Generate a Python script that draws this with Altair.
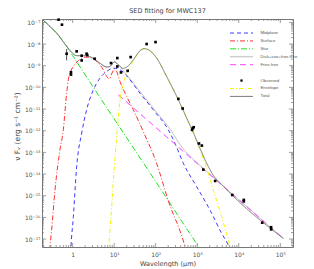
import altair as alt
import pandas as pd

# ---------------- data ----------------
star_lam = [0.197, 0.284, 0.412, 0.717, 1.0, 3.45, 10, 100, 890, 1260]
star_f = [1.24e-7, 6.5e-8, 3.2e-8, 7.8e-9, 2.95e-9, 7.7e-11, 3.5e-12, 4.5e-15, 7.8e-18, 2.9e-18]

surf_lam = [0.264, 0.284, 0.312, 0.376, 0.495, 0.596, 0.717, 0.787, 0.895, 1.04, 1.37, 1.98, 2.61,
            3.78, 5.47, 6.59, 7.64, 8.85, 10.1, 11.5, 13.8, 20.0, 28.9, 50.3, 105, 201, 507, 610]
surf_f = [1.07e-18, 4.4e-18, 2.6e-17, 1.84e-15, 1.3e-13, 1.09e-12, 5.4e-11, 2.24e-10, 5.4e-10, 9.2e-10,
          1.69e-9, 2.5e-9, 2.41e-9, 1.57e-9, 6.5e-10, 3.2e-10, 2.49e-10, 4.5e-10, 7.2e-10, 5.4e-10,
          1.87e-10, 3.8e-11, 9.2e-12, 9.1e-13, 3.15e-14, 5.9e-16, 4.4e-18, 1.07e-18]

mid_lam = [0.879, 0.912, 1.04, 1.25, 1.65, 2.17, 3.15, 4.55, 6.59, 9.53, 13.8, 20.0, 41.8, 87.5,
           201, 291, 462, 968, 2026, 3867, 5595, 6731]
mid_f = [1.07e-18, 4.4e-18, 1.08e-16, 2.21e-14, 7.7e-13, 9.2e-12, 7.7e-11, 2.67e-10, 5.4e-10, 7.7e-10,
         6.5e-10, 3.4e-10, 5.4e-11, 9.2e-12, 1.09e-12, 2.64e-13, 3.15e-14, 2.62e-15, 2.19e-16,
         1.83e-17, 5.3e-18, 2.2e-18]

env_lam = [7.1, 7.5, 8.69, 10.1, 11.9, 13.8, 16.6, 21.1, 28.9, 41.8, 52.2, 66.3, 105, 183, 350,
           556, 804, 1164, 1684, 2437, 3867, 6137, 6860]
env_f = [1.07e-18, 6.3e-18, 3.1e-16, 2.21e-14, 1.09e-12, 2.66e-11, 1.57e-10, 5.4e-10, 1.69e-9, 4.9e-9,
         6.1e-9, 5.5e-9, 2.25e-9, 3.2e-10, 2.66e-11, 3.8e-12, 7.7e-13, 1.3e-13, 1.85e-14, 1.84e-15,
         1.08e-16, 4.4e-18, 1.8e-18]

ff_lam = [12.6, 1164, 118000]
ff_f = [4.5e-11, 2.37e-14, 1.07e-17]

disk_lam = [0.197, 0.284, 0.412, 0.717, 0.912, 1.25, 1.98, 3.15, 4.55, 6.59, 7.92, 10.1, 12.6, 16.6,
            28.9, 87.5, 201, 462, 1164, 2932, 118000]
disk_f = [1.24e-7, 6.5e-8, 3.2e-8, 7.85e-9, 4.5e-9, 2.9e-9, 2.9e-9, 2.18e-9, 1.3e-9, 8.75e-10, 9.2e-10,
          1.5e-9, 1.1e-9, 5.9e-10, 1.57e-10, 1.1e-11, 1.54e-12, 1.44e-13, 2.5e-14, 5.2e-15, 1.07e-17]

tot_lam = [0.197, 0.284, 0.412, 0.717, 0.912, 1.25, 1.98, 3.15, 4.55, 6.59, 7.92, 10.1, 12.6, 16.6,
           21.1, 28.9, 41.8, 52.2, 66.3, 105, 183, 350, 556, 804, 1164, 1684, 2437, 3867, 118000]
tot_f = [1.24e-7, 6.5e-8, 3.2e-8, 7.85e-9, 4.5e-9, 2.9e-9, 2.9e-9, 2.18e-9, 1.3e-9, 8.75e-10, 9.2e-10,
         1.5e-9, 1.1e-9, 7.5e-10, 9.3e-10, 1.85e-9, 4.9e-9, 6.1e-9, 5.5e-9, 2.25e-9, 3.2e-10, 2.7e-11,
         3.9e-12, 8.2e-13, 1.55e-13, 3.2e-14, 8.7e-15, 3.3e-15, 1.07e-17]

obs_lam = [0.46, 0.553, 0.717, 0.912, 0.912, 1.25, 1.65, 1.65, 2.17, 2.25, 3.38, 8.4, 11.9, 11.9, 14.6,
           21.1, 24.9, 60.5, 99, 350, 445, 750, 780, 820, 1100, 1290, 1400, 2700, 6960, 13200, 13200,
           36600, 60000, 60000]
obs_f = [1.33e-7, 7.8e-8, 3.56e-9, 5.0e-10, 3.9e-10, 4.6e-9, 2.9e-9, 1.75e-9, 3.56e-9, 3.1e-9, 2.1e-9,
         1.32e-9, 2.25e-9, 9.2e-10, 4.9e-10, 5.8e-10, 2.5e-9, 1.0e-8, 1.23e-8, 2.95e-11, 1.06e-11,
         1.1e-12, 1.3e-12, 1.45e-12, 2.57e-13, 2.06e-13, 1.6e-14, 4.8e-15, 1.08e-15, 6.4e-16, 5.5e-16,
         5.7e-17, 3.5e-17, 2.8e-17]
err_lam = [0.717]
err_lo = [1.75e-9]
err_hi = [5.9e-9]

legend_labels = ["Midplane", "Surface", "Star", "Disk+star+free-free", "Free-free",
                 "Observed", "Envelope", "Total"]
legend_rows = [0, 1, 2, 3, 4, 6, 7, 8]

line_series = ["Midplane", "Surface", "Star", "Disk+star+free-free", "Free-free", "Envelope", "Total"]
line_colors = ["#3c3cff", "#ff3030", "#20e020", "#bdbdbd", "#ff40ff", "#f4f400", "#7a7a7a"]
line_dashes = [[4, 3], [5, 2, 1, 2], [6, 2, 1, 2], [1, 0], [6, 4], [4, 2, 1, 2], [1, 0]]
line_widths = [1, 1, 1, 2.2, 1, 1, 1]

x_major = [1, 10, 100, 1000, 10000, 100000]
x_major_labels = ["1", "10¹", "10²", "10³", "10⁴", "10⁵"]
y_major = [1e-7, 1e-8, 1e-9, 1e-10, 1e-11, 1e-12, 1e-13, 1e-14, 1e-15, 1e-16, 1e-17]
y_major_labels = ["10⁻⁷", "10⁻⁸", "10⁻⁹", "10⁻¹⁰", "10⁻¹¹", "10⁻¹²", "10⁻¹³", "10⁻¹⁴",
                  "10⁻¹⁵", "10⁻¹⁶", "10⁻¹⁷"]
x_minor = [m * d for d in [0.1, 1, 10, 100, 1000, 10000, 100000] for m in range(2, 10)]
y_minor = [m * d for d in [1e-18, 1e-17, 1e-16, 1e-15, 1e-14, 1e-13, 1e-12, 1e-11, 1e-10, 1e-9, 1e-8]
           for m in range(2, 10)]

# ---------------- tables ----------------
curves = {
    "Star": (star_lam, star_f), "Surface": (surf_lam, surf_f), "Midplane": (mid_lam, mid_f),
    "Envelope": (env_lam, env_f), "Free-free": (ff_lam, ff_f),
    "Disk+star+free-free": (disk_lam, disk_f), "Total": (tot_lam, tot_f),
}
rows = []
for name, (ls, fs) in curves.items():
    for l, f in zip(ls, fs):
        rows.append({"series": name, "lam": l, "flux": f})
curve_df = pd.DataFrame(rows)
obs_df = pd.DataFrame({"lam": obs_lam, "flux": obs_f})
err_df = pd.DataFrame({"lam": err_lam, "lo": err_lo, "hi": err_hi})
leg_df = pd.DataFrame({"label": legend_labels, "row": legend_rows})
xmaj_df = pd.DataFrame({"v": x_major})
xmin_df = pd.DataFrame({"v": [v for v in x_minor if 0.183 < v < 2.02e5]})
ymaj_df = pd.DataFrame({"v": y_major})
ymin_df = pd.DataFrame({"v": [v for v in y_minor if 4.3e-18 < v < 1.43e-7]})

W, H = 251, 228
xscale = alt.Scale(type="log", domain=[0.183, 2.02e5], nice=False)
yscale = alt.Scale(type="log", domain=[4.3e-18, 1.43e-7], nice=False)

xlab = "".join(f"abs(datum.value-{v})<{v}*1e-3 ? '{t}' : " for v, t in zip(x_major, x_major_labels)) + "''"
ylab = "".join(f"abs(datum.value-{v})<{v}*1e-3 ? '{t}' : " for v, t in zip(y_major, y_major_labels)) + "''"

LF = "DejaVu Sans"
XT = "Wavelength (μm)"
YT = "ν Fᵥ (erg s⁻¹ cm⁻²)"
xaxis = alt.Axis(values=x_major, labelExpr=xlab, ticks=False, domain=False, grid=False,
                 labelPadding=4, labelFontSize=6, labelFont=LF, labelColor="#555",
                 title=XT, titleFont=LF, titleFontSize=6.5, titleFontWeight="normal",
                 titleColor="#444", titlePadding=3)
yaxis = alt.Axis(values=y_major, labelExpr=ylab, ticks=False, domain=False, grid=False,
                 labelPadding=2, labelFontSize=6, labelFont=LF, labelColor="#555",
                 title=YT, titleFont=LF, titleFontSize=7.5, titleFontWeight="normal",
                 titleColor="#444", titleX=-25, titleY=107, titleAngle=270,
                 titleAlign="center", titleBaseline="middle")

X = lambda f: alt.X(f, scale=xscale, axis=xaxis, title=XT)
Y = lambda f: alt.Y(f, scale=yscale, axis=yaxis, title=YT)

cscale = alt.Scale(domain=line_series, range=line_colors)
dscale = alt.Scale(domain=line_series, range=line_dashes)
wscale = alt.Scale(domain=line_series, range=line_widths)

def curve_layer(name):
    return alt.Chart(curve_df).transform_filter(alt.datum.series == name).mark_line(
        clip=True, interpolate="monotone").encode(
        x=X("lam:Q"), y=Y("flux:Q"),
        color=alt.Color("series:N", scale=cscale, legend=None),
        strokeDash=alt.StrokeDash("series:N", scale=dscale, legend=None),
        strokeWidth=alt.StrokeWidth("series:N", scale=wscale, legend=None),
    )

draw_order = ["Disk+star+free-free", "Star", "Surface", "Midplane", "Free-free", "Envelope", "Total"]
layers = [curve_layer(n) for n in draw_order]

err = alt.Chart(err_df).mark_rule(color="#222", strokeWidth=0.8).encode(
    x=X("lam:Q"), y=Y("lo:Q"), y2="hi:Q")
pts = alt.Chart(obs_df).mark_square(size=7, color="black", opacity=1).encode(
    x=X("lam:Q"), y=Y("flux:Q"))

TC = "#777"
def yticks(df, x0, x1):
    return alt.Chart(df).mark_rule(color=TC, strokeWidth=0.7).encode(
        y=Y("v:Q"), x=alt.value(x0), x2=alt.value(x1))
def xticks(df, y0, y1):
    return alt.Chart(df).mark_rule(color=TC, strokeWidth=0.7).encode(
        x=X("v:Q"), y=alt.value(y0), y2=alt.value(y1))

tick_layers = [
    yticks(ymaj_df, 0, 4), yticks(ymin_df, 0, 2), yticks(ymaj_df, W - 4, W), yticks(ymin_df, W - 2, W),
    xticks(xmaj_df, H, H - 4), xticks(xmin_df, H, H - 2), xticks(xmaj_df, 0, 4), xticks(xmin_df, 0, 2),
]

main = alt.layer(*layers, err, pts, *tick_layers)

lscale = alt.Scale(domain=[0, 8], range=[14, 77.4])
LY = alt.Y("row:Q", scale=lscale, axis=None)
leg_lines = alt.Chart(leg_df).transform_filter(alt.datum.label != "Observed").mark_rule().encode(
    y=LY, x=alt.value(188), x2=alt.value(211),
    color=alt.Color("label:N", scale=cscale, legend=None),
    strokeDash=alt.StrokeDash("label:N", scale=dscale, legend=None),
    strokeWidth=alt.StrokeWidth("label:N", scale=wscale, legend=None),
)
leg_pt = alt.Chart(leg_df).transform_filter(alt.datum.label == "Observed").mark_square(
    size=5, color="black", opacity=1).encode(y=LY, x=alt.value(199.5))
leg_txt = alt.Chart(leg_df).mark_text(align="left", baseline="middle", fontSize=4.3,
                                      font="Liberation Sans", color="#555").encode(
    y=LY, x=alt.value(218.5), text="label:N")
legend = alt.layer(leg_lines, leg_pt, leg_txt)

chart = alt.layer(main, legend).resolve_scale(y="independent").properties(
    width=W, height=H, autosize="none",
    padding={"left": 34, "top": 11, "right": 12, "bottom": 20},
    title=alt.TitleParams("SED fitting for MWC137", font=LF, fontSize=6.5, fontWeight="normal",
                          color="#444", offset=4, anchor="middle"),
).configure_view(stroke="#777", strokeWidth=1)

chart.save("out.html", embed_options={"renderer": "svg", "actions": False})
